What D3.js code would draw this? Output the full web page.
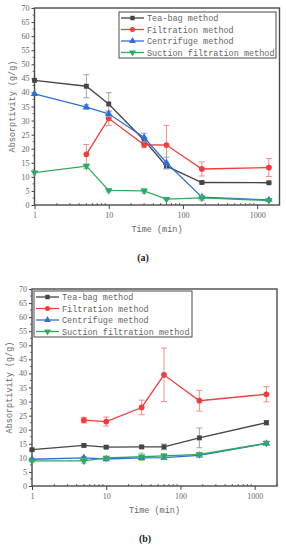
<!DOCTYPE html>
<html>
<head>
<meta charset="utf-8">
<script src="https://cdn.jsdelivr.net/npm/d3@7"></script>
<style>
  body { margin: 0; background: #fff; }
  svg { display: block; }
</style>
</head>
<body>
<svg id="chart" width="286" height="550"></svg>
<script>
// sampling times (min)
const times = [1, 5, 10, 30, 60, 180, 1440];
const seriesNames = ["Tea-bag method", "Filtration method", "Centrifuge method", "Suction filtration method"];
const seriesColors = ["#454545", "#f03c3c", "#2f6fd9", "#30a862"];
const errColors = ["#9a9a9a", "#f08080", "#7fa6e6", "#7cc79c"];
const markers = ["square", "circle", "triangle", "triangleDown"];

// panel (a)
const teaA = [44.3, 42.2, 35.9, 23.0, 13.8, 8.0, 7.9];
const teaAErr = [0, 4.1, 4.0, 1.0, 1.0, 0.3, 0.3];
const filtA = [null, 18.0, 30.8, 21.4, 21.3, 12.8, 13.3];
const filtAErr = [0, 3.5, 2.5, 1.0, 7.0, 2.5, 3.2];
const centA = [39.5, 34.8, 32.4, 24.0, 15.0, 2.8, 1.8];
const centAErr = [0, 0.8, 1.0, 1.5, 2.0, 0.5, 0.5];
const suctA = [11.5, 13.8, 5.2, 5.0, 2.1, 2.5, 1.6];
const suctAErr = [0, 0.8, 0.5, 0.8, 0.3, 0.8, 0.4];

// panel (b)
const teaB = [12.9, 14.4, 13.8, 13.9, 13.9, 17.1, 22.5];
const teaBErr = [0.3, 0.5, 0.5, 0.5, 1.0, 3.5, 0.8];
const filtB = [null, 23.4, 22.9, 27.9, 39.5, 30.3, 32.6];
const filtBErr = [0, 1.0, 1.6, 2.6, 9.5, 3.7, 2.7];
const centB = [9.5, 10.0, 9.6, 10.0, 10.1, 10.9, 15.1];
const centBErr = [0.3, 0.5, 0.4, 0.5, 0.5, 0.5, 0.6];
const suctB = [8.9, 8.9, 10.0, 10.4, 10.7, 11.2, 15.2];
const suctBErr = [0.3, 0.8, 0.5, 1.3, 0.8, 0.7, 0.8];

const yTicks = [0, 5, 10, 15, 20, 25, 30, 35, 40, 45, 50, 55, 60, 65, 70];
const xTicks = [1, 10, 100, 1000];

const svg = d3.select("#chart");
const textColor = "#666";
const monoFont = "'Liberation Mono', monospace";
const serifFont = "'Liberation Serif', serif";

function markerPath(type, size) {
    const sym = {
        square: d3.symbolSquare,
        circle: d3.symbolCircle,
        triangle: d3.symbolTriangle,
        triangleDown: d3.symbolTriangle
    }[type];
    return d3.symbol().type(sym).size(size)();
}

function drawPanel(cfg) {
    const x = d3.scaleLog().domain([1, 2000]).range([cfg.left, cfg.right]);
    const y = d3.scaleLinear().domain([0, 70]).range([cfg.bottom, cfg.top]);
    const g = svg.append("g");

    // minor y ticks
    const yMinor = d3.range(0, 70.1, 2.5).filter(v => v % 5 !== 0);
    g.selectAll(".yminor").data(yMinor).join("line")
        .attr("x1", cfg.left - 2).attr("x2", cfg.left)
        .attr("y1", d => y(d)).attr("y2", d => y(d))
        .attr("stroke", "#444").attr("stroke-width", 0.8);

    // minor x ticks (inward)
    const xMinor = [];
    [1, 10, 100, 1000].forEach(dec => {
        for (let k = 2; k <= 9; k++) if (dec * k <= 2000) xMinor.push(dec * k);
    });
    g.selectAll(".xminor").data(xMinor).join("line")
        .attr("x1", d => x(d)).attr("x2", d => x(d))
        .attr("y1", cfg.bottom).attr("y2", cfg.bottom - 2)
        .attr("stroke", "#444").attr("stroke-width", 0.8);

    // y axis
    const yAxis = g.append("g").attr("transform", `translate(${cfg.left},0)`)
        .call(d3.axisLeft(y).tickValues(yTicks).tickSize(3).tickPadding(2));
    // x axis
    const xAxis = g.append("g").attr("transform", `translate(0,${cfg.bottom})`)
        .call(d3.axisBottom(x).tickValues(xTicks).tickFormat(d3.format("d")).tickSize(4).tickPadding(3));
    [yAxis, xAxis].forEach(a => {
        a.select(".domain").remove();
        a.selectAll("line").attr("stroke", "#444").attr("stroke-width", 1);
        a.selectAll("text").attr("font-family", serifFont).attr("font-size", 8).attr("fill", textColor);
    });

    // frame
    g.append("rect")
        .attr("x", cfg.left).attr("y", cfg.top)
        .attr("width", cfg.right - cfg.left).attr("height", cfg.bottom - cfg.top)
        .attr("fill", "none").attr("stroke", "#4a4a4a").attr("stroke-width", 1.4);

    // series
    cfg.series.forEach((vals, i) => {
        const errs = cfg.errors[i];
        const pts = times.map((t, j) => ({ t: t, v: vals[j], e: errs[j] })).filter(p => p.v !== null);
        const color = seriesColors[i];
        // error bars
        const eb = g.append("g").attr("stroke", errColors[i]).attr("stroke-width", 0.9);
        pts.filter(p => p.e > 0).forEach(p => {
            const cx = x(p.t);
            eb.append("line").attr("x1", cx).attr("x2", cx).attr("y1", y(p.v - p.e)).attr("y2", y(p.v + p.e));
            eb.append("line").attr("x1", cx - 3).attr("x2", cx + 3).attr("y1", y(p.v - p.e)).attr("y2", y(p.v - p.e));
            eb.append("line").attr("x1", cx - 3).attr("x2", cx + 3).attr("y1", y(p.v + p.e)).attr("y2", y(p.v + p.e));
        });
        g.append("path").datum(pts)
            .attr("d", d3.line().x(p => x(p.t)).y(p => y(p.v)))
            .attr("fill", "none").attr("stroke", color).attr("stroke-width", 1.3);
        g.selectAll(null).data(pts).join("path")
            .attr("d", markerPath(markers[i], markers[i] === "circle" ? 26 : 24))
            .attr("transform", p => `translate(${x(p.t)},${y(p.v)})` + (markers[i] === "triangleDown" ? " rotate(180)" : ""))
            .attr("fill", color);
    });

    // legend
    const lg = g.append("g");
    lg.append("rect")
        .attr("x", cfg.legend.x).attr("y", cfg.legend.y)
        .attr("width", cfg.legend.w).attr("height", cfg.legend.h)
        .attr("fill", "#fff").attr("stroke", "#4a4a4a").attr("stroke-width", 1);
    seriesNames.forEach((name, i) => {
        const ry = cfg.legend.y + 6 + i * 11.5;
        const lx = cfg.legend.x + 2;
        lg.append("line").attr("x1", lx).attr("x2", lx + 23).attr("y1", ry).attr("y2", ry)
            .attr("stroke", seriesColors[i]).attr("stroke-width", 1.3);
        lg.append("path").attr("d", markerPath(markers[i], 20))
            .attr("transform", `translate(${lx + 11.5},${ry})` + (markers[i] === "triangleDown" ? " rotate(180)" : ""))
            .attr("fill", seriesColors[i]);
        lg.append("text").attr("x", lx + 26).attr("y", ry + 3)
            .attr("font-family", monoFont).attr("font-size", 8.5).attr("fill", textColor)
            .text(name);
    });

    // axis titles
    g.append("text")
        .attr("transform", `translate(${cfg.left - 20},${(cfg.top + cfg.bottom) / 2}) rotate(-90)`)
        .attr("text-anchor", "middle")
        .attr("font-family", monoFont).attr("font-size", 8.5).attr("fill", textColor)
        .text("Absorptivity (g/g)");
    g.append("text")
        .attr("x", (cfg.left + cfg.right) / 2).attr("y", cfg.bottom + 27)
        .attr("text-anchor", "middle")
        .attr("font-family", monoFont).attr("font-size", 8.5).attr("fill", textColor)
        .text("Time (min)");
    g.append("text")
        .attr("x", cfg.labelX).attr("y", cfg.labelY)
        .attr("text-anchor", "middle")
        .attr("font-family", serifFont).attr("font-size", 10).attr("font-weight", "bold").attr("fill", "#222")
        .text(cfg.label);
}

drawPanel({
    left: 34.5, right: 279.5, top: 8, bottom: 205,
    series: [teaA, filtA, centA, suctA],
    errors: [teaAErr, filtAErr, centAErr, suctAErr],
    legend: { x: 119, y: 12, w: 157, h: 46 },
    label: "(a)", labelX: 143, labelY: 261
});

drawPanel({
    left: 32, right: 277, top: 289, bottom: 486,
    series: [teaB, filtB, centB, suctB],
    errors: [teaBErr, filtBErr, centBErr, suctBErr],
    legend: { x: 34, y: 291, w: 158, h: 46 },
    label: "(b)", labelX: 145, labelY: 542
});
</script>
</body>
</html>
